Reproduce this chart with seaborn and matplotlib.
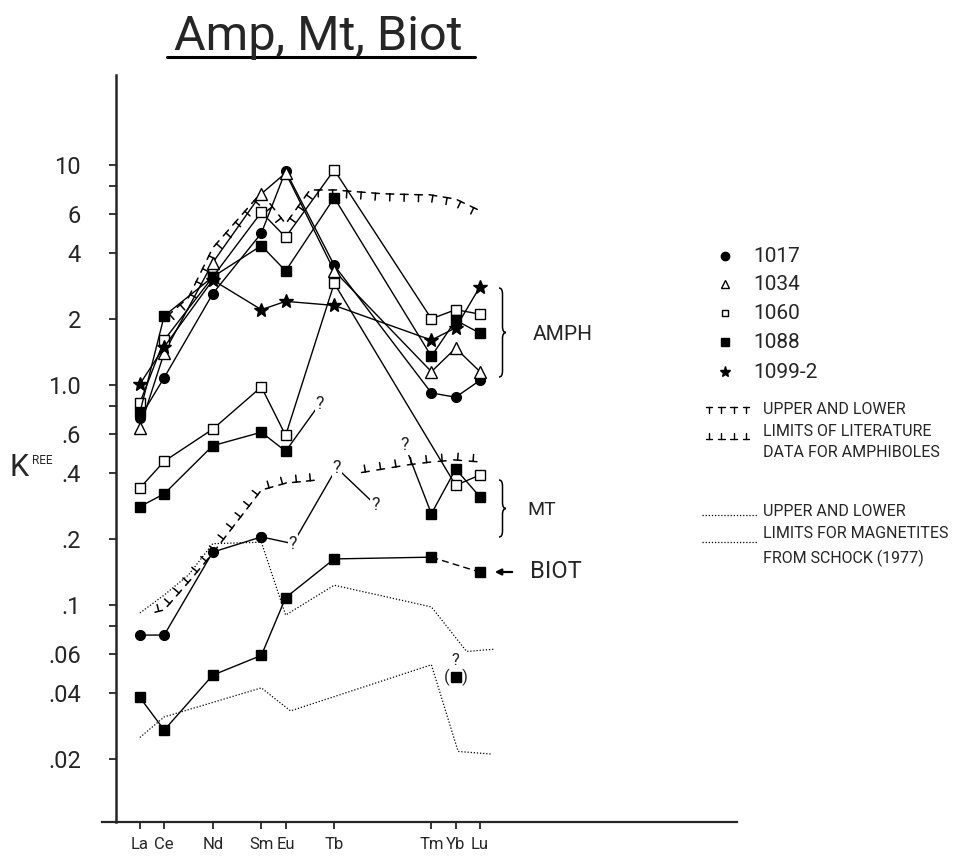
import matplotlib
matplotlib.use("Agg")
import matplotlib.pyplot as plt
import matplotlib.patheffects as pe
from matplotlib.lines import Line2D
from matplotlib.path import Path
from matplotlib.patches import PathPatch, FancyArrowPatch
import seaborn as sns

# REE on the x axis, placed by atomic number
elements = ['La', 'Ce', 'Nd', 'Sm', 'Eu', 'Tb', 'Tm', 'Yb', 'Lu']
atomic_no = [57, 58, 60, 62, 63, 65, 69, 70, 71]

# amphiboles (AMPH), one value per element above
amph_1017 = [0.71, 1.08, 2.6, 4.9, 9.4, 3.5, 0.92, 0.88, 1.05]
amph_1034 = [0.64, 1.40, 3.6, 7.4, 9.2, 3.3, 1.15, 1.47, 1.15]
amph_1060 = [0.83, 1.60, 3.1, 6.1, 4.7, 9.5, 2.0, 2.2, 2.1]
amph_1088 = [0.75, 2.06, 3.1, 4.3, 3.3, 7.1, 1.35, 1.97, 1.72]
amph_1099_2 = [1.01, 1.49, 3.0, 2.2, 2.4, 2.3, 1.6, 1.82, 2.8]

# magnetites (MT)
mt_1060_z = [57, 58, 60, 62, 63, 65, 70, 71]
mt_1060 = [0.34, 0.45, 0.63, 0.98, 0.59, 2.9, 0.35, 0.39]
mt_1088_z = [57, 58, 60, 62, 63]
mt_1088 = [0.28, 0.32, 0.53, 0.61, 0.50]
mt_1088_tail_z = [69, 70, 71]
mt_1088_tail = [0.26, 0.415, 0.31]
mt_1088_q_z = [64.4, 67.9]          # uncertain values, marked "?"
mt_1088_q = [0.82, 0.535]
mt_1017_z = [57, 58, 60, 62]
mt_1017 = [0.073, 0.073, 0.174, 0.204]
mt_1017_q_z = [63.3, 65.1, 66.7]
mt_1017_q = [0.19, 0.42, 0.285]

# biotite
biot_z = [57, 58, 60, 62, 63, 65, 69]
biot = [0.038, 0.027, 0.048, 0.059, 0.108, 0.162, 0.165]
biot_lu = 0.141
biot_yb = 0.047                      # "(?)" value

# literature limits for amphiboles
amph_up_z = [58, 59, 60, 62, 63, 64, 65, 67, 69, 70, 71]
amph_up = [2.0, 2.5, 4.2, 7.5, 5.4, 7.7, 7.7, 7.4, 7.3, 7.0, 6.2]
amph_lo_z1 = [57.5, 58, 59, 60, 62, 63, 64.3]
amph_lo1 = [0.092, 0.095, 0.127, 0.172, 0.333, 0.358, 0.37]
amph_lo_z2 = [66, 67, 68, 69, 70, 71]
amph_lo2 = [0.398, 0.415, 0.433, 0.447, 0.456, 0.447]

# magnetite limits from Schock (1977)
schock_up_z = [57, 58, 59, 60, 62, 63, 65, 69, 70.45, 71.6]
schock_up = [0.092, 0.111, 0.137, 0.19, 0.193, 0.09, 0.123, 0.098, 0.0615, 0.063]
schock_lo_z = [57, 58, 62, 63.2, 69, 70.1, 71.5]
schock_lo = [0.025, 0.031, 0.042, 0.033, 0.0535, 0.0216, 0.021]

y_ticks = [0.02, 0.04, 0.06, 0.08, 0.1, 0.2, 0.4, 0.6, 0.8, 1, 2, 4, 6, 8, 10]
y_labels = ['.02', '.04', '.06', '', '.1', '.2', '.4', '.6', '', '1.0', '2', '4', '6', '', '10']

sns.set_style('ticks')
plt.rcParams['font.family'] = ['Roboto', 'DejaVu Sans']

W, H = 973, 857


def fx(px):
    return px / W


def fy(py):
    return 1 - py / H


def t_marks(angle, spacing=10):
    # "T" shaped marks: a short bar along the line plus a stem
    return [pe.TickedStroke(spacing=spacing, angle=0, length=0.28),
            pe.TickedStroke(spacing=spacing, angle=180, length=0.28),
            pe.TickedStroke(spacing=spacing, angle=angle, length=0.5)]


fig = plt.figure(figsize=(W / 100, H / 100), dpi=100)
ax = fig.add_axes([fx(102), fy(822), (737 - 102) / W, (822 - 75) / H])
ax.set_yscale('log')


def series(x, y, marker=None, face='black', ls='-', ms=7, lw=1.0, z=3):
    sns.lineplot(x=x, y=y, ax=ax, color='black', linewidth=lw, linestyle=ls,
                 marker=marker, markersize=ms, markerfacecolor=face,
                 markeredgecolor='black', markeredgewidth=1.0,
                 estimator=None, sort=False, zorder=z)
    return ax.lines[-1]


def ticked(x, y, angle):
    ln = series(x, y, lw=1.1, z=2)
    ln.set_path_effects(t_marks(angle))


# literature limits
ticked(amph_up_z, amph_up, -90)
ticked(amph_lo_z1, amph_lo1, 90)
ticked(amph_lo_z2, amph_lo2, 90)
series(schock_up_z, schock_up, ls=(0, (1, 1.5)), lw=0.9, z=2)
series(schock_lo_z, schock_lo, ls=(0, (1, 1.5)), lw=0.9, z=2)

# amphiboles
series(atomic_no, amph_1017, 'o', ms=7)
series(atomic_no, amph_1034, '^', face='white', ms=8)
series(atomic_no, amph_1060, 's', face='white', ms=6.5)
series(atomic_no, amph_1088, 's', ms=6.5)
series(atomic_no, amph_1099_2, '*', ms=10)

# magnetites
series(mt_1060_z, mt_1060, 's', face='white', ms=6.5)
series(mt_1088_z, mt_1088, 's', ms=6.5)
series([mt_1088_z[-1], mt_1088_q_z[0]], [mt_1088[-1], mt_1088_q[0]])
series([mt_1088_q_z[1]] + mt_1088_tail_z, [mt_1088_q[1]] + mt_1088_tail)
series(mt_1088_tail_z, mt_1088_tail, 's', ls='none', ms=6.5)
series(mt_1017_z, mt_1017, 'o', ms=7)
series([mt_1017_z[-1]] + mt_1017_q_z, [mt_1017[-1]] + mt_1017_q)
series([mt_1017_z[-1]], [mt_1017[-1]], 'o', ms=7)

# biotite
series(biot_z, biot, 's', ms=6.5)
series([biot_z[-1], 71], [biot[-1], biot_lu], ls=(0, (5, 3)))
series([71], [biot_lu], 's', ms=6.5)
series([70], [biot_yb], 's', ls='none', ms=6.5)
ax.text(70, biot_yb, '(   )', ha='center', va='center', fontsize=12)
ax.annotate('?', (70, biot_yb), xytext=(0, 12), textcoords='offset points',
            ha='center', va='center', fontsize=12)

for qx, qy in zip(mt_1088_q_z + mt_1017_q_z, mt_1088_q + mt_1017_q):
    ax.text(qx, qy, '?', ha='center', va='center', fontsize=13, zorder=5,
            bbox=dict(fc='white', ec='none', pad=0.6))

# axes
ax.set_xlim(55.44, 81.58)
ax.set_ylim(0.01032, 25.65)
ax.set_xticks(atomic_no)
ax.set_xticklabels(elements)
ax.set_yticks(y_ticks)
ax.set_yticklabels(y_labels)
ax.minorticks_off()
ax.tick_params(axis='x', direction='out', length=5, width=1.3, pad=6, labelsize=12)
ax.tick_params(axis='y', direction='out', length=5, width=1.3, pad=20, labelsize=17)
sns.despine(ax=ax)
ax.spines['left'].set_position(('data', 56))
ax.spines['left'].set_linewidth(1.8)
ax.spines['bottom'].set_linewidth(1.6)
ax.grid(False)

fig.text(fx(10), fy(468), 'K', fontsize=22, va='center')
fig.text(fx(32), fy(460), 'REE', fontsize=8.5, va='center')

# title with underline
fig.text(fx(318), fy(50), 'Amp, Mt, Biot', fontsize=35, ha='center', va='baseline')
fig.add_artist(Line2D([fx(167), fx(475)], [fy(57), fy(57)], color='black', lw=2.2))


def brace(x, yt, yb, w=7, d=6):
    ym = (yt + yb) / 2
    pts = [(x, yt), (x + w / 2, yt), (x + w / 2, yt + d), (x + w / 2, ym - d),
           (x + w / 2, ym), (x + w, ym), (x + w / 2, ym), (x + w / 2, ym + d),
           (x + w / 2, yb - d), (x + w / 2, yb), (x, yb)]
    codes = [Path.MOVETO, Path.CURVE3, Path.CURVE3, Path.LINETO, Path.CURVE3, Path.CURVE3,
             Path.CURVE3, Path.CURVE3, Path.LINETO, Path.CURVE3, Path.CURVE3]
    verts = [(fx(a), fy(b)) for a, b in pts]
    fig.add_artist(PathPatch(Path(verts, codes), fc='none', ec='black', lw=1.1,
                             transform=fig.transFigure))


brace(499, 288, 377)
brace(499, 480, 537)
fig.text(fx(533), fy(335), 'AMPH', fontsize=15, va='center')
fig.text(fx(527), fy(510), 'MT', fontsize=14, va='center')
fig.text(fx(530), fy(572), 'BIOT', fontsize=17, va='center')
fig.add_artist(FancyArrowPatch((fx(515), fy(572)), (fx(492), fy(572)), transform=fig.transFigure,
                               arrowstyle='-|>', mutation_scale=9, color='black', lw=1.6))

# legend
legend_labels = ['1017', '1034', '1060', '1088', '1099-2']
legend_marks = [('o', 'black', 6), ('^', 'white', 6), ('s', 'white', 5), ('s', 'black', 5.5), ('*', 'black', 8)]
legend_y = [256, 284, 313, 342, 372]
for lab, (m, fc, ms), py in zip(legend_labels, legend_marks, legend_y):
    fig.add_artist(Line2D([fx(725)], [fy(py)], marker=m, ms=ms, mfc=fc, mec='black', mew=1.0, ls='none'))
    fig.text(fx(753), fy(py), lab, fontsize=15, va='center')

for py, ang in [(407, -90), (439, 90)]:
    tk = Line2D([fx(703), fx(752)], [fy(py), fy(py)], color='black', lw=1.0)
    tk.set_path_effects(t_marks(ang, spacing=8.5))
    fig.add_artist(tk)
for txt, py in zip(['UPPER AND LOWER', 'LIMITS OF LITERATURE', 'DATA FOR AMPHIBOLES'], [410, 431, 452]):
    fig.text(fx(763), fy(py), txt, fontsize=11.5, va='center')

for py in [515, 542]:
    fig.add_artist(Line2D([fx(702), fx(758)], [fy(py), fy(py)], color='black', lw=0.9,
                          ls=(0, (1, 1.5))))
for txt, py in zip(['UPPER AND LOWER', 'LIMITS FOR MAGNETITES', 'FROM SCHOCK (1977)'], [512, 534, 558]):
    fig.text(fx(763), fy(py), txt, fontsize=11.5, va='center')

fig.savefig('out.png', dpi=100)
